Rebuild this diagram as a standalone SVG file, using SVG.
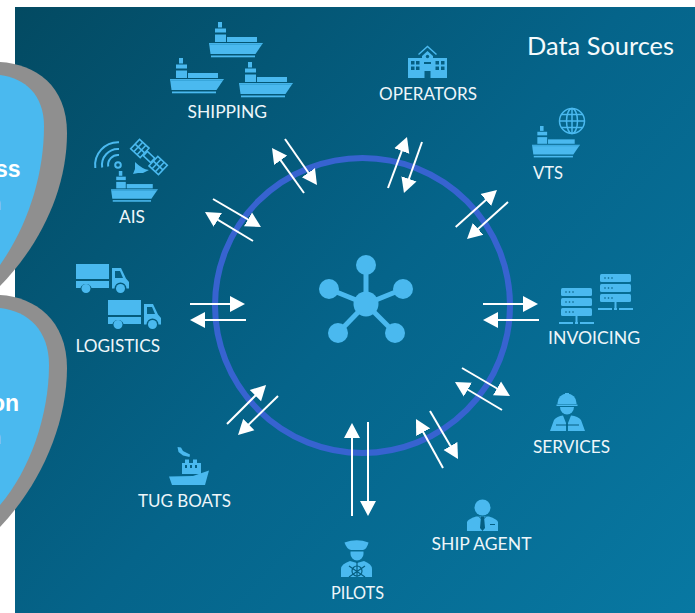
<svg xmlns="http://www.w3.org/2000/svg" xmlns:xlink="http://www.w3.org/1999/xlink" width="695" height="613" viewBox="0 0 695 613">
<style>
.lbl{font-family:"Lato","Liberation Sans",sans-serif;font-size:18px;fill:#eef6fa}
.ic{fill:#4ab9ef}
.cut{fill:#055f82}
.ln{fill:none;stroke:#4ab9ef}
.ar{stroke:#fff;stroke-width:2;fill:none;marker-end:url(#head)}
.bold{font-family:"Liberation Sans",sans-serif;font-weight:700;font-size:23px;fill:#fff}
.reg{font-family:"Liberation Sans",sans-serif;font-size:20px;fill:#fff}
</style>
<defs>
<linearGradient id="bg" x1="15" y1="7" x2="695" y2="613" gradientUnits="userSpaceOnUse">
<stop offset="0" stop-color="#034a62"/><stop offset="0.5" stop-color="#05648a"/><stop offset="1" stop-color="#0878a2"/>
</linearGradient>
<marker id="head" markerUnits="userSpaceOnUse" markerWidth="16" markerHeight="17" refX="11" refY="8.500" orient="auto" viewBox="0 0 16 17"><path d="M0 0.500L15 8.500L0 16.500Z" fill="#fff"/></marker>
<g id="ship">
<rect class="ic" x="9" y="0" width="4" height="5.500"/>
<rect class="ic" x="6" y="6.500" width="11" height="4"/>
<rect class="ic" x="6" y="12.500" width="11" height="7.500"/>
<rect class="ic" x="18" y="15" width="30" height="5"/>
<path class="ic" d="M0 21H54L46.500 32H1.500Z"/>
<path d="M0.500 22.300H53" stroke="#2f9ccf" stroke-width="0.800"/>
<rect class="ic" x="2" y="33.500" width="44" height="1.800"/>
</g>
<g id="truck">
<rect class="ic" x="0" y="0" width="33" height="15"/>
<path class="ic" d="M0 17H33V24H15.500A5.800 5.800 0 0 0 4.500 24H0Z"/>
<path class="ic" d="M36 4H45L50 14.500L53 18V24.500H50.500A6 6 0 0 0 38.500 24.500H36Z"/>
<path class="cut" d="M39 7H44L47 14H39Z"/>
<circle class="ic" cx="10" cy="24.500" r="4.500"/>
<circle class="ic" cx="44.500" cy="24.500" r="4.500"/>
</g>
<g id="server">
<rect class="ic" x="0" y="0" width="31" height="8" rx="1.500"/>
<rect class="ic" x="0" y="10" width="31" height="8" rx="1.500"/>
<rect class="ic" x="0" y="20" width="31" height="8" rx="1.500"/>
<g fill="#055f82"><circle cx="5" cy="4" r="0.800"/><circle cx="8.500" cy="4" r="0.800"/><circle cx="12" cy="4" r="0.800"/><circle cx="5" cy="14" r="0.800"/><circle cx="8.500" cy="14" r="0.800"/><circle cx="12" cy="14" r="0.800"/><circle cx="5" cy="24" r="0.800"/><circle cx="8.500" cy="24" r="0.800"/><circle cx="12" cy="24" r="0.800"/></g>
<rect class="ic" x="14.500" y="28" width="2" height="6"/>
<rect class="ic" x="-2" y="34" width="14" height="2"/><rect class="ic" x="14" y="34" width="3" height="2"/><rect class="ic" x="19" y="34" width="14" height="2"/>
</g>
</defs>

<rect x="15" y="7" width="680" height="606" fill="url(#bg)"/>

<g id="blob-top">
<path d="M0 62C35 64 67 85 67 133C67 190 40 245 0 286Z" fill="#8f8f8f"/>
<path d="M0 75C25 78 44 95 44 126C44 175 28 225 0 265Z" fill="#4ab9ef"/>
<text class="bold" x="-5" y="177">ss</text>
<text class="reg" x="-10" y="210">n</text>
</g>
<g id="blob-bottom">
<path d="M0 295C35 297 67 320 67 368C67 425 40 485 0 527Z" fill="#8f8f8f"/>
<path d="M0 308C28 311 49 330 49 365C49 415 30 470 0 505Z" fill="#4ab9ef"/>
<text class="bold" x="-9" y="411">on</text>
<text class="reg" x="-10" y="444">n</text>
</g>

<g id="ring"><circle cx="362.500" cy="305.500" r="147.500" fill="none" stroke="#3763d0" stroke-width="6"/></g>

<g id="hub">
<g stroke="#4ab9ef" stroke-width="5"><line x1="366" y1="304" x2="366" y2="265"/><line x1="366" y1="304" x2="329" y2="289"/><line x1="366" y1="304" x2="403" y2="289"/><line x1="366" y1="304" x2="338" y2="333"/><line x1="366" y1="304" x2="395" y2="333"/></g>
<circle class="ic" cx="366" cy="304" r="12.500"/>
<circle class="ic" cx="366" cy="265" r="10"/><circle class="ic" cx="329" cy="289" r="10"/><circle class="ic" cx="403" cy="289" r="10"/><circle class="ic" cx="338" cy="333" r="10"/><circle class="ic" cx="395" cy="333" r="10"/>
</g>

<g id="connectors">
<line class="ar" x1="304" y1="193" x2="274.300" y2="151.300"/>
<line class="ar" x1="285" y1="139" x2="314.700" y2="181.700"/>
<line class="ar" x1="253" y1="241" x2="208.400" y2="214.100"/>
<line class="ar" x1="213" y1="199" x2="257.500" y2="225"/>
<line class="ar" x1="190" y1="304" x2="241" y2="304"/>
<line class="ar" x1="246" y1="320" x2="194" y2="320"/>
<line class="ar" x1="227" y1="424" x2="263.200" y2="387.800"/>
<line class="ar" x1="278" y1="396" x2="240.900" y2="432.200"/>
<line class="ar" x1="352" y1="516" x2="352" y2="427"/>
<line class="ar" x1="368" y1="422" x2="368" y2="512"/>
<line class="ar" x1="443" y1="468" x2="417.900" y2="422.500"/>
<line class="ar" x1="430" y1="411" x2="456" y2="455.500"/>
<line class="ar" x1="502" y1="410" x2="458.400" y2="384"/>
<line class="ar" x1="462" y1="368" x2="506.500" y2="394"/>
<line class="ar" x1="483" y1="304" x2="534" y2="304"/>
<line class="ar" x1="539" y1="320" x2="487" y2="320"/>
<line class="ar" x1="455.700" y1="227" x2="494" y2="192.700"/>
<line class="ar" x1="508" y1="202" x2="470" y2="236.300"/>
<line class="ar" x1="388" y1="188" x2="405.600" y2="140.700"/>
<line class="ar" x1="422" y1="142" x2="405.300" y2="189.200"/>
</g>

<g id="node-shipping">
<use xlink:href="#ship" href="#ship" x="209" y="22"/>
<use xlink:href="#ship" href="#ship" x="170" y="58"/>
<use xlink:href="#ship" href="#ship" x="239" y="62"/>
<text class="lbl" x="187.500" y="118" textLength="79.500" lengthAdjust="spacingAndGlyphs">SHIPPING</text>
</g>

<g id="node-ais">
<g class="ln" stroke-width="2"><path d="M95.300 168A23 23 0 0 1 119 142.200"/><path d="M102.200 167.500A16 16 0 0 1 119 149"/><path d="M108.200 166.500A10 10 0 0 1 119 155"/></g>
<circle cx="118" cy="165" r="2.800" fill="none" stroke="#4ab9ef" stroke-width="2"/>
<g transform="translate(149 157) rotate(43)">
<g fill="none" stroke="#4ab9ef" stroke-width="1.600">
<rect x="-19" y="-6.500" width="13" height="13"/>
<rect x="6" y="-6.500" width="13" height="13"/>
<path d="M-14.700 -6.500V6.500M-10.300 -6.500V6.500M-19 0H-6M10.300 -6.500V6.500M14.700 -6.500V6.500M6 0H19"/>
<rect x="-5" y="-3" width="10" height="6"/>
</g>
</g>
<path class="ic" d="M135 162Q142 169 149 170L143 173H138L133 174L135 169Z"/>
<g transform="translate(111 171) scale(0.87)"><use xlink:href="#ship" href="#ship"/></g>
<text class="lbl" x="119" y="223" textLength="26" lengthAdjust="spacingAndGlyphs">AIS</text>
</g>

<g id="node-logistics">
<use xlink:href="#truck" href="#truck" x="76" y="264"/>
<use xlink:href="#truck" href="#truck" x="108" y="300"/>
<text class="lbl" x="75.500" y="352" textLength="84.500" lengthAdjust="spacingAndGlyphs">LOGISTICS</text>
</g>

<g id="node-tugboats">
<path class="ic" d="M177.500 447L181 447.500L183 451L190 454.500L189.500 457L183 455.500L178.500 452Z"/>
<path class="ic" d="M182 463H185V459.500H189V463H193V459.500H197V463H201V474H182Z"/>
<path class="cut" d="M185 465h2v3h-2zM190 465h2v3h-2zM195 465h2v3h-2z"/>
<path class="ic" d="M169 476.500L193 476L209 470.500L205 485H172Z"/>
<text class="lbl" x="138" y="507" textLength="93" lengthAdjust="spacingAndGlyphs">TUG BOATS</text>
</g>

<g id="node-pilots">
<path class="ic" d="M344.500 542.500Q357 538 368.500 542.500Q367 549 363 550H351Q346.500 549 344.500 542.500Z"/>
<path class="ic" d="M350.500 551.500H363.500V554A6.500 6.500 0 0 1 350.500 554Z"/>
<path class="ic" d="M341 577V569Q341 564 350 561L357 563L364 561Q372 564 372 569V577Z"/>
<g stroke="#055f82" stroke-width="1.200" fill="none"><circle cx="357" cy="571" r="5"/><path d="M349 566L365 577M365 566L349 577M357 562V577"/></g>
<text class="lbl" x="331" y="599" textLength="53" lengthAdjust="spacingAndGlyphs">PILOTS</text>
</g>

<g id="node-shipagent">
<circle class="ic" cx="482.500" cy="507.500" r="8"/>
<path class="ic" d="M467 531V522Q468 519 476 516.500H489Q497 519 498 522V531Z"/>
<path d="M481 516.500H484L485 528L482.500 531L480 528Z" fill="#055f82"/>
<path d="M479 516.500L482.500 520L486 516.500" fill="none" stroke="#055f82" stroke-width="1"/>
<rect x="490" y="524" width="5" height="1" fill="#055f82"/>
<text class="lbl" x="431.500" y="550" textLength="100" lengthAdjust="spacingAndGlyphs">SHIP AGENT</text>
</g>

<g id="node-services">
<path class="ic" d="M557.500 403A9.500 9.500 0 0 1 576.500 403V404H557.500Z"/>
<rect class="ic" x="565" y="393" width="4" height="5"/>
<rect class="ic" x="556.500" y="404.500" width="21" height="1.500"/>
<path class="ic" d="M560 407H574A7 7.500 0 0 1 560 407Z"/>
<path class="ic" d="M550 431L554 420Q557 416 563 415.500L566 423V431ZM585 431L581 420Q578 416 571 415.500L568 423V431Z"/>
<path d="M556 425H579" stroke="#055f82" stroke-width="1"/>
<text class="lbl" x="533" y="453" textLength="77" lengthAdjust="spacingAndGlyphs">SERVICES</text>
</g>

<g id="node-invoicing">
<use xlink:href="#server" href="#server" x="561" y="288"/>
<use xlink:href="#server" href="#server" x="600" y="274"/>
<text class="lbl" x="548" y="344" textLength="92" lengthAdjust="spacingAndGlyphs">INVOICING</text>
</g>

<g id="node-vts">
<use xlink:href="#ship" href="#ship" transform="translate(532 126) scale(0.89)"/>
<g class="ln" stroke-width="1.500"><circle cx="572" cy="121" r="12.500"/><ellipse cx="572" cy="121" rx="5.500" ry="12.500"/><path d="M572 108.500V133.500M559.500 121H584.500M561.500 114.500H582.500M561.500 127.500H582.500"/></g>
<text class="lbl" x="533" y="179" textLength="30" lengthAdjust="spacingAndGlyphs">VTS</text>
</g>

<g id="node-operators">
<path class="ln" stroke-width="1.500" d="M418.500 54.500L427.500 46.500L436.500 54.500"/>
<path class="ic" d="M422 56L427.500 51L433 56V58H447V78H408V58H422Z"/>
<g fill="#055f82"><circle cx="427.500" cy="56.500" r="1.700"/><path d="M424.500 71h6v7h-6zM411 61h3.500v3.500H411zM416 61h3.500v3.500H416zM411 66.500h3.500V70H411zM416 66.500h3.500V70H416zM435.500 61h3.500v3.500h-3.500zM441 61h3.500v3.500H441zM435.500 66.500h3.500V70h-3.500zM441 66.500h3.500V70H441zM424 62h7v2h-7z"/></g>
<text class="lbl" x="379" y="100" textLength="98" lengthAdjust="spacingAndGlyphs">OPERATORS</text>
</g>

<text id="title" x="527" y="55" font-family="Lato,'Liberation Sans',sans-serif" font-size="25" fill="#f4fafc" textLength="147" lengthAdjust="spacingAndGlyphs">Data Sources</text>
</svg>
